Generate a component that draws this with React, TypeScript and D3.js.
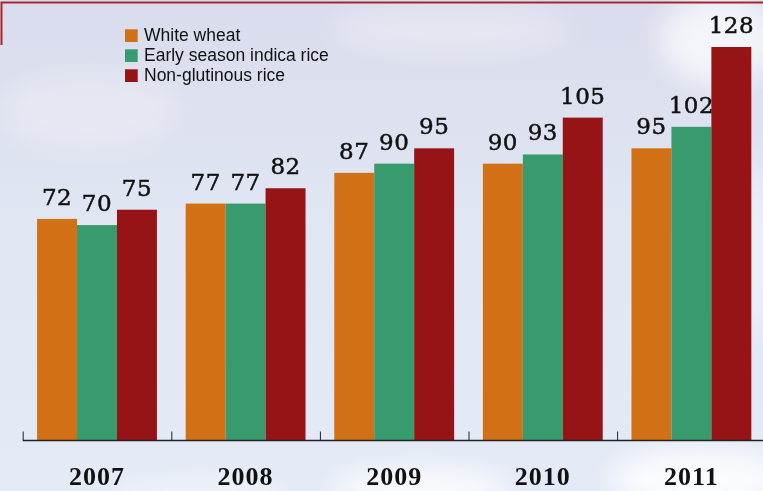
import React, { useEffect, useRef } from "react";
import * as d3 from "d3";

// Price data per year (yuan / 50 kg)
const years = ["2007", "2008", "2009", "2010", "2011"];
const seriesNames = ["White wheat", "Early season indica rice", "Non-glutinous rice"];
const whiteWheat = [72, 77, 87, 90, 95];
const indicaRice = [70, 77, 90, 93, 102];
const nonGlutinous = [75, 82, 95, 105, 128];
const seriesColors = ["#d27015", "#389b6d", "#961416"];

const W = 763;
const H = 491;

const App = () => {
  const ref = useRef<SVGSVGElement | null>(null);

  useEffect(() => {
    const svg = d3.select(ref.current);
    svg.selectAll("*").remove();

    const series = [whiteWheat, indicaRice, nonGlutinous];

    // sky background
    const defs = svg.append("defs");
    const grad = defs
      .append("linearGradient")
      .attr("id", "sky")
      .attr("x1", 0)
      .attr("y1", 0)
      .attr("x2", 0)
      .attr("y2", 1);
    grad.append("stop").attr("offset", "0%").attr("stop-color", "#d9dcec");
    grad.append("stop").attr("offset", "45%").attr("stop-color", "#e1e6f3");
    grad.append("stop").attr("offset", "100%").attr("stop-color", "#e4eaf6");
    defs
      .append("filter")
      .attr("id", "blur")
      .attr("x", "-50%")
      .attr("y", "-50%")
      .attr("width", "200%")
      .attr("height", "200%")
      .append("feGaussianBlur")
      .attr("stdDeviation", 14);

    svg.append("rect").attr("width", W).attr("height", H).attr("fill", "url(#sky)");

    // soft clouds
    const clouds = [
      { cx: 720, cy: 40, rx: 60, ry: 45, o: 0.7 },
      { cx: 450, cy: 30, rx: 120, ry: 25, o: 0.3 },
      { cx: 90, cy: 110, rx: 90, ry: 40, o: 0.25 },
      { cx: 420, cy: 490, rx: 90, ry: 22, o: 0.8 },
      { cx: 700, cy: 480, rx: 90, ry: 30, o: 0.85 },
      { cx: 200, cy: 495, rx: 90, ry: 15, o: 0.5 },
      { cx: 740, cy: 250, rx: 40, ry: 90, o: 0.35 },
    ];
    svg
      .append("g")
      .attr("filter", "url(#blur)")
      .selectAll("ellipse")
      .data(clouds)
      .enter()
      .append("ellipse")
      .attr("cx", (d) => d.cx)
      .attr("cy", (d) => d.cy)
      .attr("rx", (d) => d.rx)
      .attr("ry", (d) => d.ry)
      .attr("fill", "#ffffff")
      .attr("opacity", (d) => d.o);

    // frame lines at top left
    svg
      .append("path")
      .attr("d", `M1.5,45 V2.5 H${W}`)
      .attr("fill", "none")
      .attr("stroke", "#a5272b")
      .attr("stroke-width", 2);

    // scales
    const x0 = d3.scaleBand().domain(years).range([22.7, 22.7 + 148.6 * 5]);
    const x1 = d3
      .scaleBand()
      .domain(seriesNames)
      .range([0, x0.bandwidth()])
      .paddingOuter(0.36)
      .paddingInner(0);
    const y = d3.scaleLinear().domain([0, 128]).range([440, 47]);

    const groups = svg
      .append("g")
      .selectAll("g")
      .data(years)
      .enter()
      .append("g")
      .attr("transform", (d) => `translate(${x0(d)},0)`);

    seriesNames.forEach((name, si) => {
      groups
        .append("rect")
        .attr("x", x1(name)!)
        .attr("width", x1.bandwidth())
        .attr("y", (_, i) => y(series[si][i]))
        .attr("height", (_, i) => y(0) - y(series[si][i]))
        .attr("fill", seriesColors[si]);

      groups
        .append("text")
        .attr("x", x1(name)! + x1.bandwidth() / 2)
        .attr("y", (_, i) => y(series[si][i]) - 14)
        .attr("text-anchor", "middle")
        .attr("font-family", "DejaVu Serif")
        .attr("font-size", 23)
        .attr("letter-spacing", 0.5)
        .attr("stroke", "#111")
        .attr("stroke-width", 0.5)
        .attr("fill", "#111")
        .text((_, i) => series[si][i]);
    });

    // x axis
    const axis = svg.append("g");
    axis
      .append("line")
      .attr("x1", 22.7)
      .attr("x2", W)
      .attr("y1", 440.5)
      .attr("y2", 440.5)
      .attr("stroke", "#222")
      .attr("stroke-width", 1.3);
    axis
      .selectAll("line.tick")
      .data(years)
      .enter()
      .append("line")
      .attr("class", "tick")
      .attr("x1", (d) => x0(d)! + 0.5)
      .attr("x2", (d) => x0(d)! + 0.5)
      .attr("y1", 431.5)
      .attr("y2", 440)
      .attr("stroke", "#222")
      .attr("stroke-width", 1);
    axis
      .selectAll("text")
      .data(years)
      .enter()
      .append("text")
      .attr("x", (d) => x0(d)! + x0.bandwidth() / 2)
      .attr("y", 485)
      .attr("text-anchor", "middle")
      .attr("font-family", "Liberation Serif")
      .attr("font-weight", "bold")
      .attr("font-size", 26)
      .attr("letter-spacing", 1)
      .attr("fill", "#111")
      .text((d) => d);

    // legend
    const legend = svg
      .append("g")
      .selectAll("g")
      .data(seriesNames)
      .enter()
      .append("g")
      .attr("transform", (_, i) => `translate(125,${29.3 + i * 20})`);
    legend
      .append("rect")
      .attr("width", 12.7)
      .attr("height", 12.7)
      .attr("fill", (_, i) => seriesColors[i]);
    legend
      .append("text")
      .attr("x", 19)
      .attr("y", 12)
      .attr("font-family", "Liberation Sans, Arial, sans-serif")
      .attr("font-size", 17.5)
      .attr("fill", "#111")
      .text((d) => d);
  }, []);

  return (
    <svg
      ref={ref}
      width={W}
      height={H}
      style={{ display: "block", position: "absolute", left: 0, top: 0 }}
    ></svg>
  );
};

export default App;
